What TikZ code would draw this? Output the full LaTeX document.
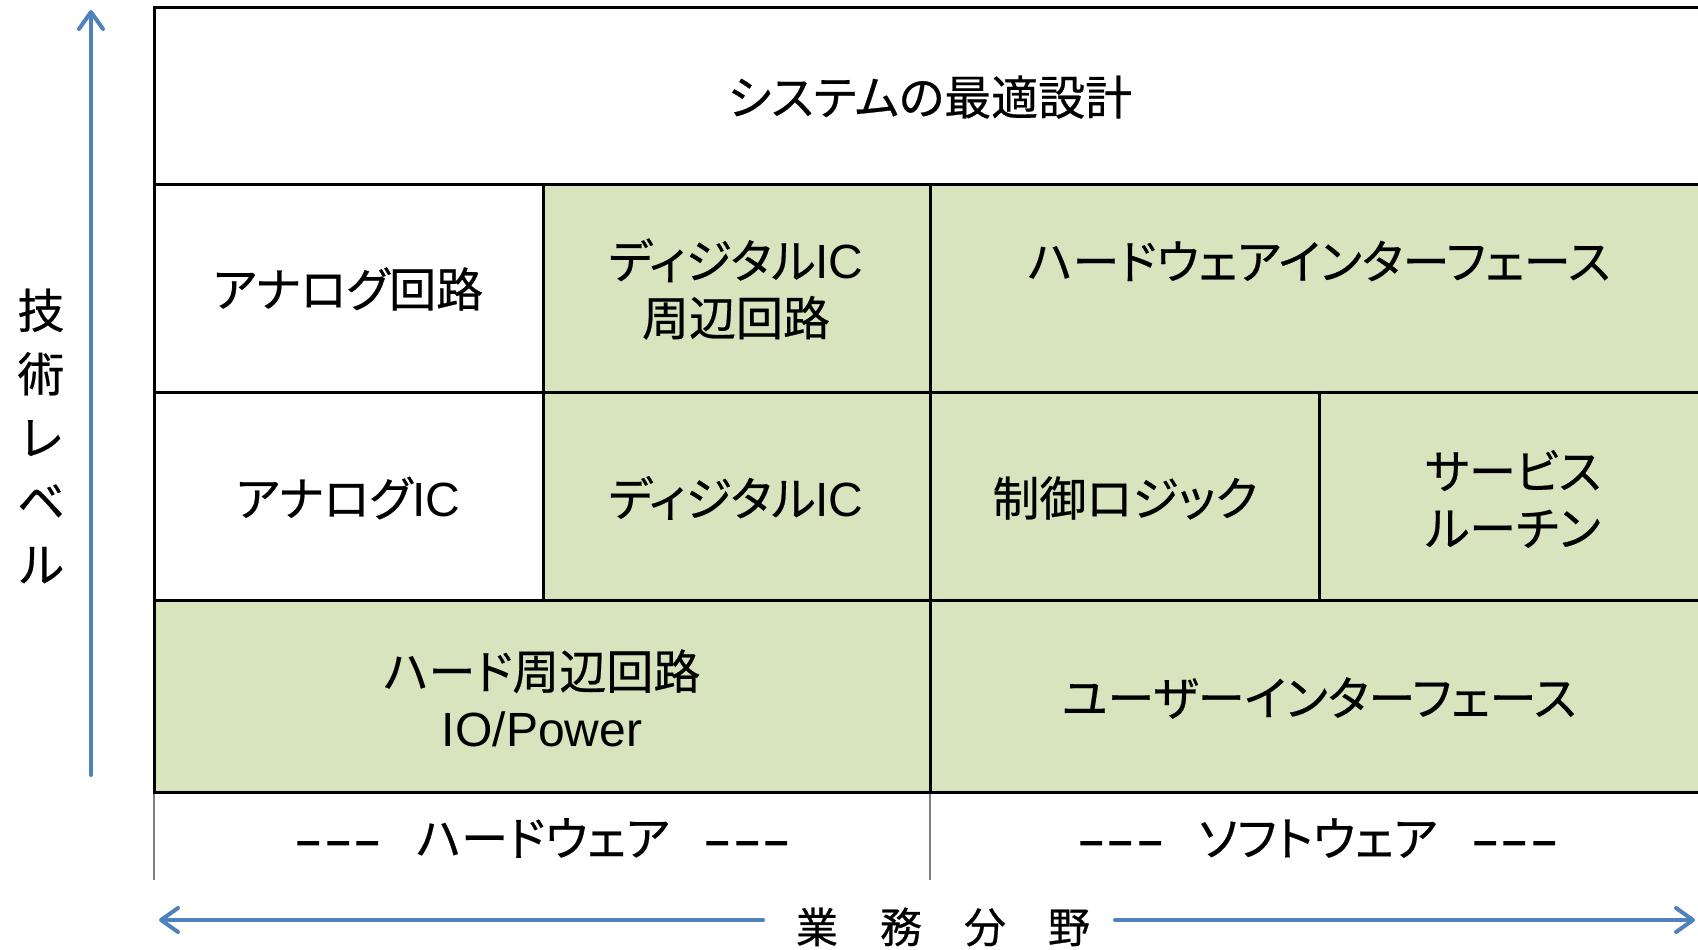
\documentclass[tikz,border=0pt]{standalone}
\usepackage{fontspec}
\setmainfont{Noto Sans CJK JP}[RawFeature={+palt},FakeBold=0.5]
\newfontfamily\jpplain{Noto Sans CJK JP}[FakeBold=0.5]
\newfontfamily\latinf{Liberation Sans}
\usetikzlibrary{arrows.meta}
\definecolor{cellgreen}{RGB}{215,228,189}
\definecolor{axisblue}{RGB}{79,129,189}
\definecolor{sepgray}{RGB}{128,128,128}
\newcommand{\tripledash}{{\latinf\bfseries\fontsize{44}{50}\selectfont –\kern5pt–\kern5pt–}}
\newcommand{\lat}[1]{{\latinf\fontsize{48}{57}\selectfont #1}}
\begin{document}
\begin{tikzpicture}[x=1pt,y=-1pt,
  greenfill/.style={fill=cellgreen},
  gridline/.style={draw=black, line width=3pt},
  sepline/.style={draw=sepgray, line width=2pt},
  celltext/.style={font=\fontsize{47}{57}\selectfont, align=center, inner sep=0pt},
  axislabel/.style={font=\jpplain\fontsize{42}{50}\selectfont, inner sep=0pt},
  vlabel/.style={font=\jpplain\fontsize{47}{63.5}\selectfont, align=center, inner sep=0pt},
  axis/.style={draw=axisblue, line width=4pt, line cap=round,
    -{Straight Barb[length=17pt,width=24pt,line cap=round,line join=round]}},
  ]
\useasboundingbox (0,0) rectangle (1698,950);
\clip (0,0) rectangle (1698,950);
\fill[white] (0,0) rectangle (1698,950);

% green fills
\path[greenfill] (543,184) rectangle (930,392);
\path[greenfill] (930,184) rectangle (1707,392);
\path[greenfill] (543,392) rectangle (930,600);
\path[greenfill] (930,392) rectangle (1707,600);
\path[greenfill] (154,600) rectangle (1707,792);

% grid lines
\path[gridline] (154,8) rectangle (1707,184);
\path[gridline] (154,184) rectangle (543,392);
\path[gridline] (543,184) rectangle (930,392);
\path[gridline] (930,184) rectangle (1707,392);
\path[gridline] (154,392) rectangle (543,600);
\path[gridline] (543,392) rectangle (930,600);
\path[gridline] (930,392) rectangle (1319,600);
\path[gridline] (1319,392) rectangle (1707,600);
\path[gridline] (154,600) rectangle (930,792);
\path[gridline] (930,600) rectangle (1707,792);
\path[sepline] (154,793.5) -- (154,880);
\path[sepline] (930,793.5) -- (930,880);

% cell texts
\node[celltext] (sys) at (930,97) {システムの最適設計};
\node[celltext] (ana) at (348,289) {アナログ回路};
\node[celltext] (digp) at (736,289) {ディジタル\lat{IC}\\周辺回路};
\node[celltext] (hwif) at (1319,261) {ハードウェアインターフェース};
\node[celltext] (anaic) at (348,498) {アナログ\lat{IC}};
\node[celltext] (digic) at (736,498) {ディジタル\lat{IC}};
\node[celltext] (ctrl) at (1125,498) {制御ロジック};
\node[celltext] (svc) at (1513,499) {サービス\\ルーチン};
\node[celltext] (hwp) at (542,698) {ハード周辺回路\\\lat{IO/Power}};
\node[celltext] (uif) at (1319,698) {ユーザーインターフェース};
\node[celltext] (hwlab) at (543,838) {\tripledash\hspace{36pt}ハードウェア\hspace{36pt}\tripledash};
\node[celltext] (swlab) at (1318,838) {\tripledash\hspace{36pt}ソフトウェア\hspace{36pt}\tripledash};

% axes
\node[vlabel] (lvl) at (41,436) {技\\術\\レ\\ベ\\ル};
\coordinate (vbot) at (91,775);
\coordinate (vtop) at (91,10);
\draw[axis] (vbot) -- (vtop);

\node[axislabel] (field) at (943,927) {業　務　分　野};
\coordinate (fl) at (763,920);
\coordinate (fr) at (1115,920);
\coordinate (hl) at (159,920);
\coordinate (hr) at (1695,920);
\draw[axis] (fl) -- (hl);
\draw[axis] (fr) -- (hr);
\end{tikzpicture}
\end{document}
